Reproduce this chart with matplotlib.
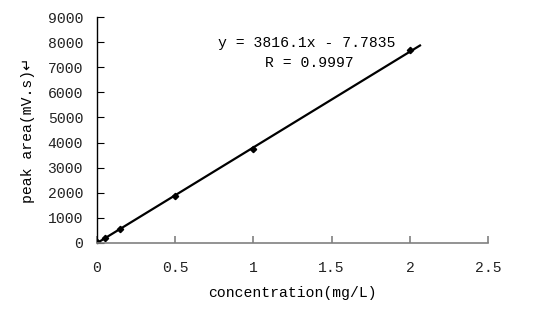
import matplotlib
matplotlib.use("Agg")
import matplotlib.pyplot as plt
import numpy as np

conc = [0.0, 0.05, 0.15, 0.5, 1.0, 2.0]
area = [20, 210, 560, 1880, 3760, 7680]
slope = 3816.1
intercept = -7.7835
fit_x = [0.0, 2.07]
xticks = [0, 0.5, 1, 1.5, 2, 2.5]
xticklabels = ["0", "0.5", "1", "1.5", "2", "2.5"]
yticks = list(range(0, 9001, 1000))

font = ["Liberation Mono", "DejaVu Sans"]
plt.rcParams['font.family'] = font
FS = 10.6

fig = plt.figure(figsize=(5.33, 3.11), dpi=100)
ax = fig.add_axes([0.182, 0.219, 0.734, 0.726])

fx = np.array(fit_x)
ax.plot(fx, slope * fx + intercept, color="black", lw=1.6, solid_capstyle="butt")
ax.plot(conc, area, "D", color="black", ms=3.2)

ax.set_xlim(0, 2.5)
ax.set_ylim(0, 9000)
ax.set_xticks(xticks)
ax.set_xticklabels(xticklabels)
ax.set_yticks(yticks)
for s in ["top", "right"]:
    ax.spines[s].set_visible(False)
ax.spines["bottom"].set_color("#808080")
ax.spines["bottom"].set_linewidth(1.2)
ax.spines["left"].set_color("black")
ax.spines["left"].set_linewidth(1.0)
ax.tick_params(axis="x", direction="in", length=5, color="#808080", width=1.2,
               labelsize=FS, pad=13, labelcolor="#222222")
ax.tick_params(axis="y", direction="in", length=5, color="black",
               labelsize=FS, pad=10, labelcolor="#222222")

ax.set_xlabel("concentration(mg/L)", fontsize=FS, labelpad=8)
ax.set_ylabel("peak area(mV.s)\u21b5", fontsize=FS, labelpad=9)

ax.text(0.31, 0.885, "y = 3816.1x - 7.7835", transform=ax.transAxes,
        fontsize=FS, ha="left", va="center")
ax.text(0.43, 0.797, "R = 0.9997", transform=ax.transAxes,
        fontsize=FS, ha="left", va="center")

fig.savefig("out.png", dpi=100)
